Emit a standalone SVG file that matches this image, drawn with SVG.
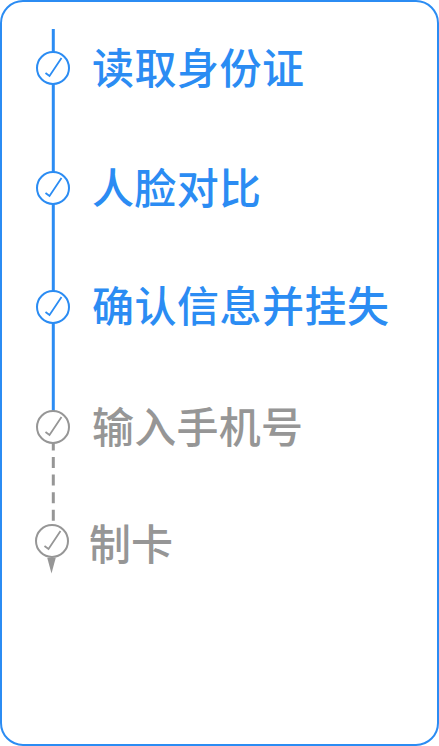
<svg xmlns="http://www.w3.org/2000/svg" width="439" height="746" viewBox="0 0 439 746">
<style>
.t{font-family:"Noto Sans CJK SC","Noto Sans",sans-serif;font-size:42px;font-weight:500}
.b{fill:#2b8cf3}.g{fill:#969696}
.cb{fill:#fff;stroke:#2b8cf3;stroke-width:2}
.cg{fill:#fff;stroke:#969696;stroke-width:2}
.kb{fill:none;stroke:#2b8cf3;stroke-width:1.8}
.kg{fill:none;stroke:#969696;stroke-width:1.8}
</style>
<rect id="frame" x="1" y="1" width="437" height="744" rx="22" fill="#fff" stroke="#2b8cf3" stroke-width="2"/>
<g id="connectors">
<path d="M53.300 29V412" fill="none" stroke="#2b8cf3" stroke-width="3"/>
<path d="M53.300 439.400V524" fill="none" stroke="#969696" stroke-width="3" stroke-dasharray="11 6.600"/>
<path d="M47.300 558H55.700L51.500 573.500Z" fill="#969696"/>
</g>
<g id="n1"><circle class="cb" cx="53" cy="68" r="16"/><path class="kb" d="M45.500 73L49.500 76L61.500 58"/><text class="t b" x="92" y="84" textLength="212">读取身份证</text></g>
<g id="n2"><circle class="cb" cx="53" cy="188" r="16"/><path class="kb" d="M45.500 193L49.500 196L61.500 178"/><text class="t b" x="92" y="204" textLength="169">人脸对比</text></g>
<g id="n3"><circle class="cb" cx="53" cy="307" r="16"/><path class="kb" d="M45.500 312L49.500 315L61.500 297"/><text class="t b" x="92" y="322" textLength="297">确认信息并挂失</text></g>
<g id="n4"><circle class="cg" cx="53" cy="427" r="16"/><path class="kg" d="M45.500 432L49.500 435L61.500 417"/><text class="t g" x="92" y="443" textLength="211">输入手机号</text></g>
<g id="n5"><circle class="cg" cx="52" cy="541" r="16"/><path class="kg" d="M44.500 546L48.500 549L60.500 531"/><text class="t g" x="89" y="560" textLength="84">制卡</text></g>
</svg>
